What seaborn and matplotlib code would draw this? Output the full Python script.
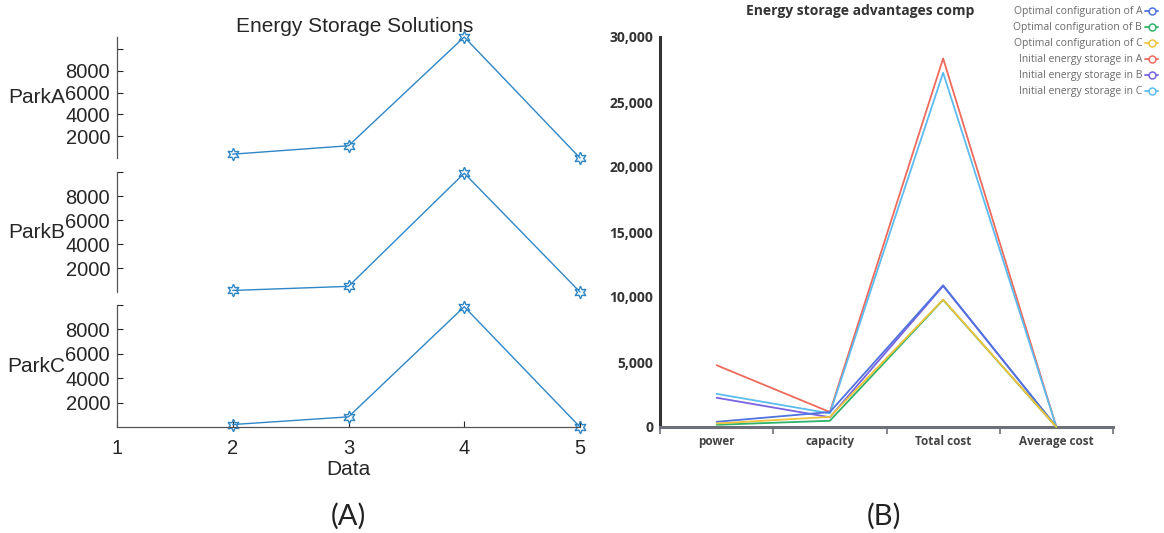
import matplotlib
matplotlib.use("Agg")
import matplotlib.pyplot as plt
from matplotlib.lines import Line2D
from matplotlib.ticker import FuncFormatter, FixedLocator
import pandas as pd
import seaborn as sns

# ---- Panel (A): energy storage per park ----
data_index = [2, 3, 4, 5]
park_a = [370, 1140, 11080, 20]
park_b = [140, 480, 9900, 10]
park_c = [220, 850, 9860, 20]
park_names = ["ParkA", "ParkB", "ParkC"]
x_ticks = [1, 2, 3, 4, 5]
y_ticks = [2000, 4000, 6000, 8000, 10000]
y_tick_labels = ["2000", "4000", "6000", "8000", ""]

# ---- Panel (B): advantage comparison ----
categories = ["power", "capacity", "Total cost", "Average cost"]
series_names = [
    "Optimal configuration of A",
    "Optimal configuration of B",
    "Optimal configuration of C",
    "Initial energy storage in A",
    "Initial energy storage in B",
    "Initial energy storage in C",
]
opt_a = [400, 1150, 10900, 0.62]
opt_b = [170, 480, 9780, 0.55]
opt_c = [270, 780, 9800, 0.58]
init_a = [4750, 1150, 28350, 0.71]
init_b = [2250, 750, 10850, 0.64]
init_c = [2550, 1050, 27250, 0.69]
series_colors = ["#4f73de", "#2fb36a", "#f0c23a", "#ee6a5c", "#7a63e0", "#5cbcf0"]

sns.set_theme(style="white")
plt.rcParams["font.family"] = ["Liberation Sans", "DejaVu Sans"]

W, H = 1164, 533
fig = plt.figure(figsize=(W / 100, H / 100), dpi=100)
fig.patch.set_facecolor("white")


def box(left, top, right, bottom):
    return fig.add_axes([left / W, 1 - bottom / H, (right - left) / W, (bottom - top) / H])


# ---------- stacked plot ----------
ink = "#262626"
line_blue = "#2f86c6"
rows = [(37, 158), (172, 292), (305, 427)]
for i, (name, vals, (top, bottom)) in enumerate(zip(park_names, [park_a, park_b, park_c], rows)):
    ax = box(117, top, 580, bottom)
    ax.set_facecolor("none")
    sns.lineplot(x=data_index, y=vals, ax=ax, color=line_blue, lw=1.0,
                 marker=(6, 1, 0), markersize=9, markerfacecolor="none",
                 markeredgecolor=line_blue, markeredgewidth=1.0, clip_on=False)
    ax.set_xlim(1, 5)
    ax.set_ylim(min(vals), max(vals))
    ax.set_yticks(y_ticks)
    ax.set_yticklabels(y_tick_labels)
    ax.tick_params(axis="y", direction="in", length=4, width=0.8, labelsize=14.5,
                   pad=5, colors=ink, left=True)
    for side in ["top", "right"]:
        ax.spines[side].set_visible(False)
    ax.spines["left"].set_color("#555555")
    ax.spines["left"].set_linewidth(0.9)
    ax.set_ylabel(name, rotation=0, fontsize=15, color=ink, ha="right", va="center")
    ax.yaxis.set_label_coords(-0.112, 0.5)
    if i < 2:
        ax.spines["bottom"].set_visible(False)
        ax.set_xticks([])
        ax.set_xlabel("")
    else:
        ax.spines["bottom"].set_color("#555555")
        ax.spines["bottom"].set_linewidth(0.9)
        ax.set_xticks(x_ticks)
        ax.tick_params(axis="x", direction="in", length=4, width=0.8, labelsize=14.5,
                       pad=9, colors=ink, bottom=True)
        ax.set_xlabel("Data", fontsize=15, color=ink, labelpad=1)

fig.text(355 / W, 1 - 26 / H, "Energy Storage Solutions", ha="center", va="center",
         fontsize=15, color=ink)

# ---------- comparison line chart ----------
rb = "Open Sans"
axb = box(660, 37, 1113, 427)
axb.set_facecolor("none")
records = []
for name, vals in zip(series_names, [opt_a, opt_b, opt_c, init_a, init_b, init_c]):
    for cat, v in zip(categories, vals):
        records.append({"category": cat, "value": v, "series": name})
df = pd.DataFrame(records)
sns.lineplot(data=df, x="category", y="value", hue="series", hue_order=series_names,
             palette=series_colors, sort=False, lw=1.3, legend=False, ax=axb, clip_on=False)
# keep the optimal-configuration curves on top of the initial ones
for k, ln in enumerate(axb.lines):
    ln.set_zorder(3 if k < 3 else 2)

axb.set_xlim(-0.5, 3.5)
axb.set_ylim(0, 30000)
axb.set_yticks(range(0, 30001, 5000))
axb.yaxis.set_major_formatter(FuncFormatter(lambda v, p: f"{v:,.0f}"))
axb.set_xlabel("")
axb.set_ylabel("")
axb.xaxis.set_minor_locator(FixedLocator([-0.5, 0.5, 1.5, 2.5, 3.5]))
axb.tick_params(axis="x", which="major", length=0, pad=6, labelsize=8.5, colors="#444444")
axb.tick_params(axis="x", which="minor", length=5, width=1.2, colors="#6e7079", bottom=True)
axb.tick_params(axis="y", length=0, pad=5, labelsize=10, colors="#333333")
for lab in axb.get_xticklabels() + axb.get_yticklabels():
    lab.set_fontweight("bold")
    lab.set_family([rb, "DejaVu Sans"])
for side in ["top", "right"]:
    axb.spines[side].set_visible(False)
axb.spines["left"].set_color("#333333")
axb.spines["left"].set_linewidth(2.2)
axb.spines["bottom"].set_color("#6e7079")
axb.spines["bottom"].set_linewidth(2.2)

fig.text(860 / W, 1 - 11 / H, "Energy storage advantages comp", ha="center", va="center",
         fontsize=10, fontweight="bold", color="#333333", family=[rb, "DejaVu Sans"])

handles = [Line2D([0], [0], color=c, lw=1.3, marker="o", markersize=5,
                  markerfacecolor="white", markeredgecolor=c, markeredgewidth=1.1)
           for c in series_colors]
fig.legend(handles, series_names, loc="upper right", bbox_to_anchor=(1.0, 1.0),
           frameon=False, markerfirst=False, prop={"family": rb, "size": 7.5},
           labelspacing=0.48, handlelength=1.2, handletextpad=0.3,
           borderpad=0.4, borderaxespad=0.2, labelcolor="#6a6a6a")

# panel captions
fig.text(348 / W, 1 - 516 / H, "(A)", ha="center", va="center", fontsize=21, color="#222222",
         family=["Lato", "DejaVu Sans"])
fig.text(884 / W, 1 - 516 / H, "(B)", ha="center", va="center", fontsize=21, color="#222222",
         family=["Lato", "DejaVu Sans"])

fig.savefig("out.png", dpi=100, facecolor="white")
